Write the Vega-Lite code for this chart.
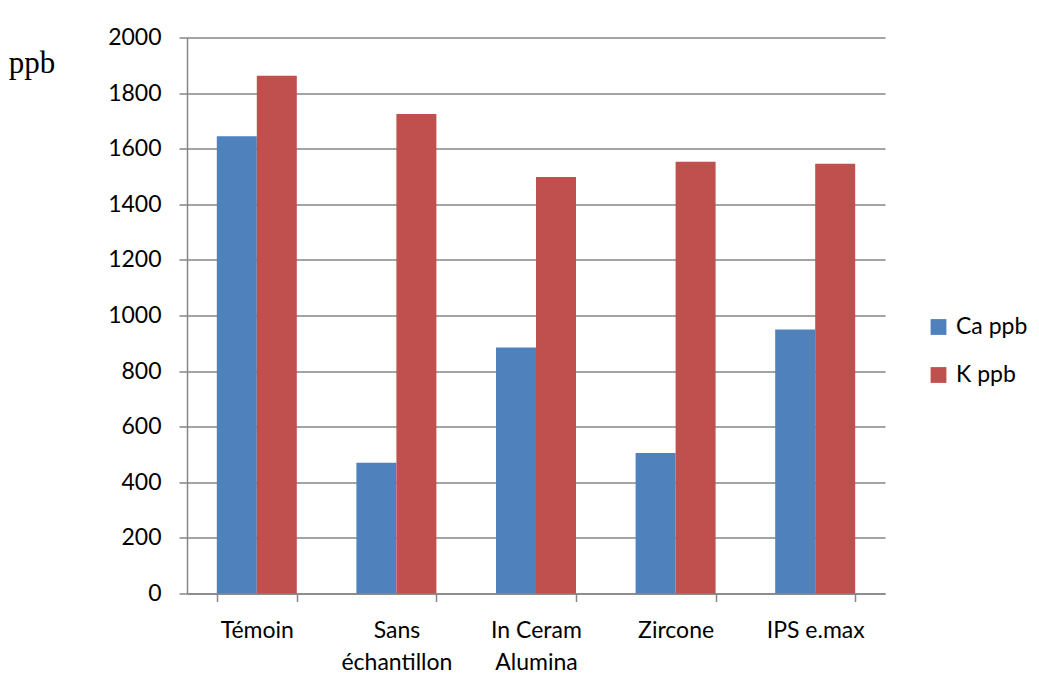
{
  "$schema": "https://vega.github.io/schema/vega-lite/v6.json",
  "width": 698,
  "height": 556,
  "autosize": {"type": "none"},
  "padding": {"left": 187, "top": 37.5, "right": 154, "bottom": 97.5},
  "background": "white",
  "data": {
    "values": [
      {"groupe": "Témoin", "serie": "Ca ppb", "valeur": 1645},
      {"groupe": "Témoin", "serie": "K ppb", "valeur": 1862},
      {"groupe": "Sans|échantillon", "serie": "Ca ppb", "valeur": 470},
      {"groupe": "Sans|échantillon", "serie": "K ppb", "valeur": 1725},
      {"groupe": "In Ceram|Alumina", "serie": "Ca ppb", "valeur": 885},
      {"groupe": "In Ceram|Alumina", "serie": "K ppb", "valeur": 1498},
      {"groupe": "Zircone", "serie": "Ca ppb", "valeur": 505},
      {"groupe": "Zircone", "serie": "K ppb", "valeur": 1553},
      {"groupe": "IPS e.max", "serie": "Ca ppb", "valeur": 950},
      {"groupe": "IPS e.max", "serie": "K ppb", "valeur": 1546}
    ]
  },
  "mark": {"type": "bar"},
  "encoding": {
    "x": {
      "field": "groupe",
      "type": "nominal",
      "sort": null,
      "scale": {"paddingInner": 0.427, "paddingOuter": 0.2135},
      "axis": {
        "title": null,
        "labelAngle": 0,
        "labelExpr": "split(datum.label, '|')",
        "labelFont": "Lato",
        "labelFontSize": 23,
        "labelColor": "#000000",
        "labelLineHeight": 32,
        "labelPadding": 18,
        "labelBaseline": "top",
        "tickBand": "extent",
        "tickSize": 8,
        "tickColor": "#868686",
        "domainColor": "#868686",
        "domainWidth": 1.5,
        "tickWidth": 1.5
      }
    },
    "xOffset": {"field": "serie", "type": "nominal", "scale": {"paddingInner": 0, "paddingOuter": 0}},
    "y": {
      "field": "valeur",
      "type": "quantitative",
      "scale": {"domain": [0, 2000], "nice": false},
      "axis": {
        "title": "ppb",
        "titleAngle": 0,
        "titleFont": "Liberation Serif",
        "titleFontSize": 31,
        "titleFontWeight": "normal",
        "titleColor": "#000000",
        "titleX": -155.5,
        "titleY": 26,
        "titleAlign": "center",
        "titleBaseline": "middle",
        "values": [0, 200, 400, 600, 800, 1000, 1200, 1400, 1600, 1800, 2000],
        "format": "d",
        "labelFont": "Lato",
        "labelFontSize": 23,
        "labelColor": "#000000",
        "labelPadding": 18,
        "tickSize": 8,
        "tickColor": "#868686",
        "tickWidth": 1.5,
        "domainColor": "#868686",
        "domainWidth": 1.5,
        "grid": true,
        "gridColor": "#868686",
        "gridWidth": 1.5
      }
    },
    "color": {
      "field": "serie",
      "type": "nominal",
      "scale": {"domain": ["Ca ppb", "K ppb"], "range": ["#4F81BD", "#C0504D"]},
      "legend": {
        "title": null,
        "orient": "none",
        "legendX": 740,
        "legendY": 278,
        "symbolType": "square",
        "symbolSize": 250,
        "symbolStrokeWidth": 0,
        "labelFont": "Lato",
        "labelFontSize": 23,
        "labelColor": "#000000",
        "rowPadding": 24,
        "labelOffset": 6
      }
    }
  },
  "config": {
    "view": {"stroke": null},
    "axis": {"labelFlush": false}
  }
}
